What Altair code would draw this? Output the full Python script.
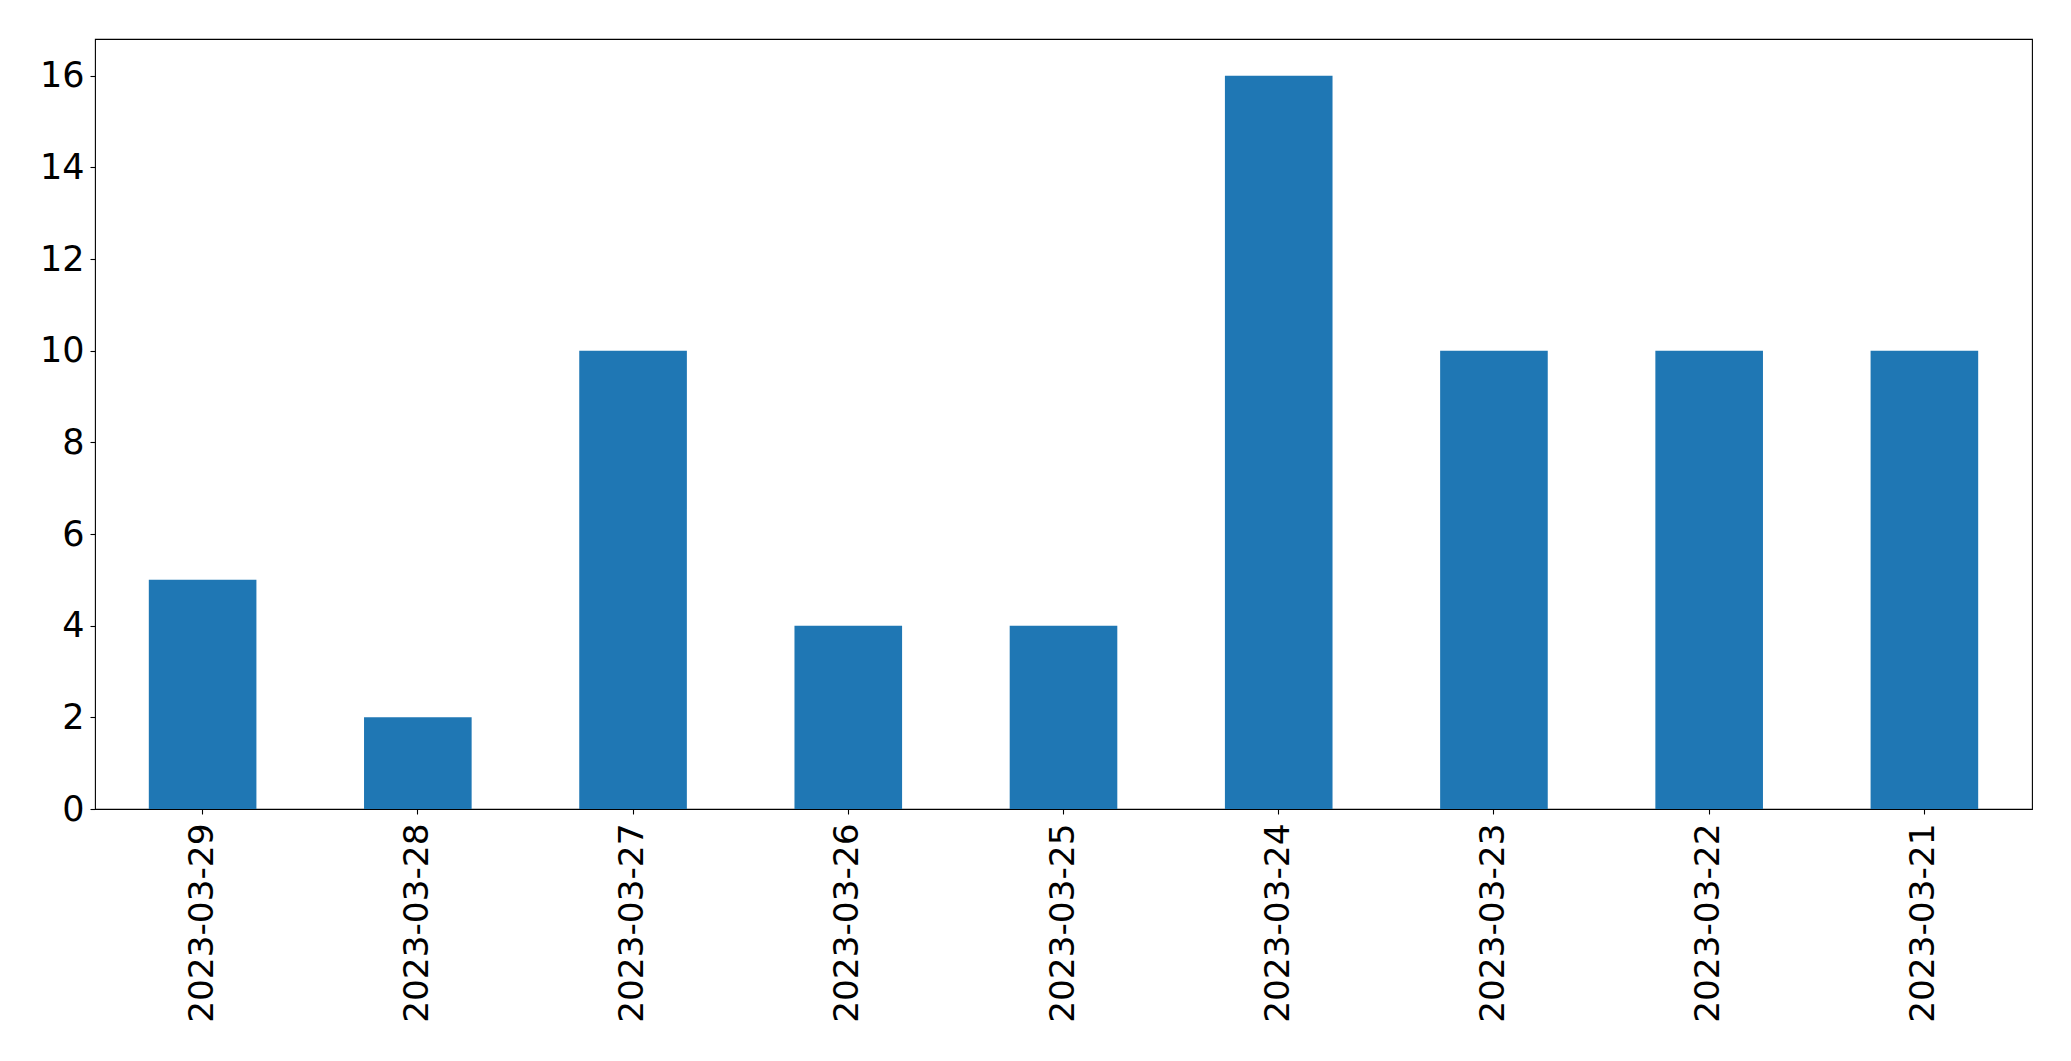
import altair as alt
import pandas as pd

dates = ["2023-03-29", "2023-03-28", "2023-03-27", "2023-03-26", "2023-03-25",
         "2023-03-24", "2023-03-23", "2023-03-22", "2023-03-21"]
counts = [5, 2, 10, 4, 4, 16, 10, 10, 10]
y_ticks = [0, 2, 4, 6, 8, 10, 12, 14, 16]

df = pd.DataFrame({"date": dates, "count": counts})

FONT = "DejaVu Sans"

chart = alt.Chart(df).mark_bar(color="#1f77b4").encode(
    x=alt.X("date:N", sort=None, title=None,
            scale=alt.Scale(paddingInner=0.5, paddingOuter=0.25),
            axis=alt.Axis(labelAngle=270, labelAlign="right", labelBaseline="middle",
                          labelFont=FONT, labelFontSize=34.3, labelColor="black",
                          labelPadding=9, tickSize=5, tickColor="black", tickWidth=1.1,
                          domain=False, labelOverlap=False, labelLimit=0)),
    y=alt.Y("count:Q", title=None,
            scale=alt.Scale(domain=[0, 16.8], nice=False, zero=True),
            axis=alt.Axis(values=y_ticks, labelFont=FONT, labelFontSize=35,
                          labelColor="black", labelPadding=6, tickSize=5,
                          tickColor="black", tickWidth=1.1, grid=False,
                          domain=False, labelFlush=False, labelLimit=0)),
).properties(
    width=1937, height=770,
    autosize=alt.AutoSizeParams(type="none"),
    padding={"left": 87, "top": 31, "right": 30, "bottom": 230},
).configure(
    background="white",
    view=alt.ViewConfig(stroke="black", strokeWidth=1.1),
)

chart.save("out.html", embed_options={"renderer": "svg", "actions": False})
